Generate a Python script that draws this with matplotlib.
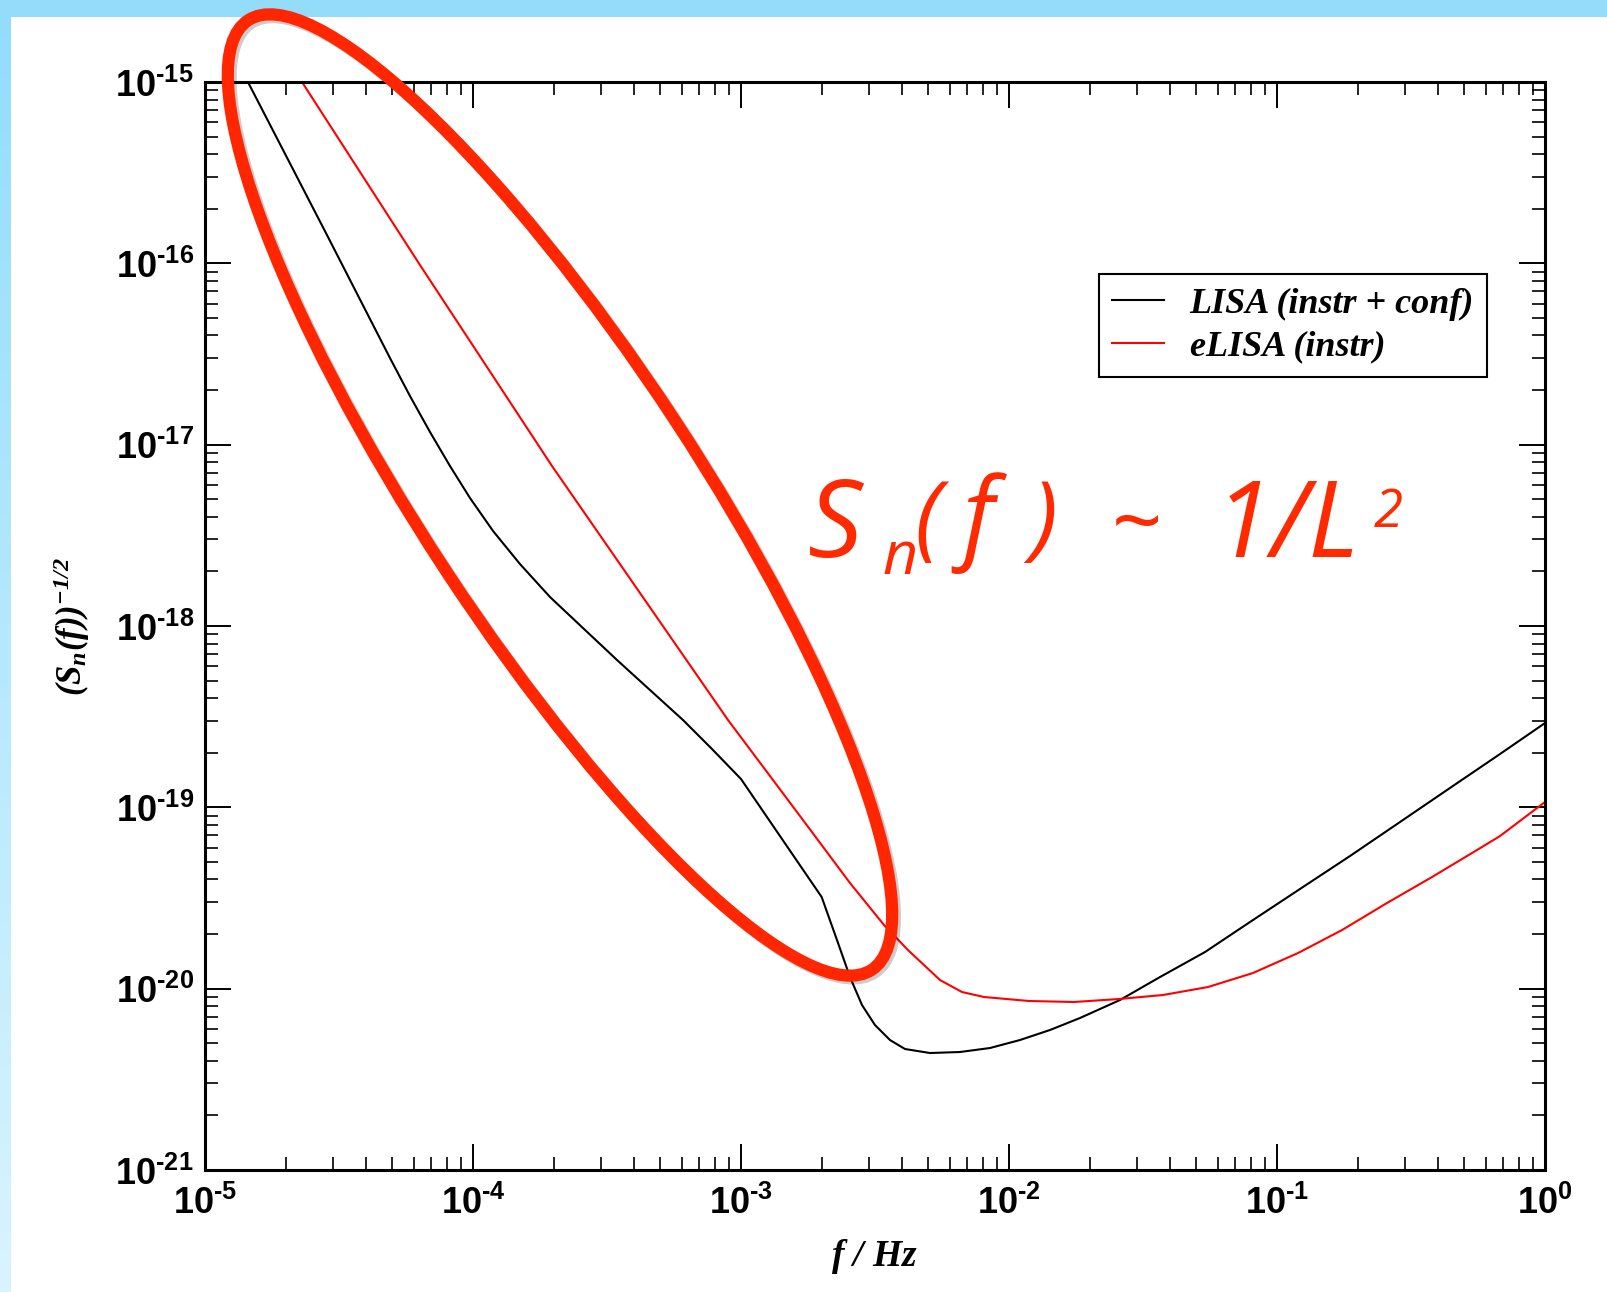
import numpy as np
import matplotlib
matplotlib.use('Agg')
import matplotlib.pyplot as plt
from matplotlib.patches import Ellipse, Rectangle
from matplotlib.ticker import FixedLocator, FuncFormatter, NullFormatter
import matplotlib.patheffects as pe

# fonts: sans bold for tick numbers, serif bold italic for the axis labels
plt.rcParams['mathtext.fontset'] = 'custom'
plt.rcParams['mathtext.rm'] = 'Liberation Serif:italic:bold'
plt.rcParams['mathtext.it'] = 'Liberation Serif:italic:bold'
plt.rcParams['mathtext.bf'] = 'Liberation Sans:bold'

# Step 1: data
lisa_f = [1.446e-5, 2.877e-5, 4.900e-5, 5.818e-5, 6.912e-5, 8.208e-5, 9.745e-5, 1.188e-4,
          1.497e-4, 1.938e-4, 2.572e-4, 3.446e-4, 4.575e-4, 6.075e-4, 7.795e-4, 1.0e-3,
          2.0e-3, 2.281e-3, 2.551e-3, 2.828e-3, 3.162e-3, 3.597e-3, 4.091e-3, 5.072e-3,
          6.567e-3, 8.494e-3, 1.099e-2, 1.422e-2, 1.840e-2, 2.595e-2, 3.659e-2, 5.386e-2,
          7.927e-2, 0.1218, 0.1872, 0.2877, 0.4418, 0.6794, 1.0]
lisa_S = [1.0e-15, 1.397e-16, 3.005e-17, 1.855e-17, 1.174e-17, 7.62e-18, 5.079e-18, 3.341e-18,
          2.197e-18, 1.445e-18, 9.748e-19, 6.494e-19, 4.436e-19, 3.031e-19, 2.097e-19, 1.433e-19,
          3.201e-20, 1.855e-20, 1.159e-20, 8.124e-21, 6.301e-21, 5.210e-21, 4.648e-21, 4.417e-21,
          4.474e-21, 4.707e-21, 5.210e-21, 5.916e-21, 6.889e-21, 8.659e-21, 1.159e-20, 1.592e-20,
          2.331e-20, 3.545e-20, 5.388e-20, 8.299e-20, 1.278e-19, 1.968e-19, 2.917e-19]

elisa_f = [2.301e-5, 6.341e-5, 1.972e-4, 8.943e-4, 1.703e-3, 2.551e-3, 3.417e-3, 4.198e-3,
           5.527e-3, 6.678e-3, 8.068e-3, 1.187e-2, 1.748e-2, 2.572e-2, 3.754e-2, 5.527e-2,
           8.133e-2, 0.1198, 0.1748, 0.2572, 0.3788, 0.5576, 0.6794, 1.0]
elisa_S = [1.0e-15, 9.790e-17, 7.62e-18, 3.031e-19, 8.513e-20, 3.825e-20, 2.244e-20, 1.633e-20,
           1.116e-20, 9.583e-21, 8.995e-21, 8.550e-21, 8.443e-21, 8.768e-21, 9.226e-21, 1.021e-20,
           1.220e-20, 1.572e-20, 2.105e-20, 2.967e-20, 4.127e-20, 5.816e-20, 6.946e-20, 1.070e-19]

labels = ['LISA (instr + conf)', 'eLISA (instr)']
x_decades = [-5, -4, -3, -2, -1, 0]
y_decades = [-21, -20, -19, -18, -17, -16, -15]

W, H = 1607, 1292
fig = plt.figure(figsize=(W / 100, H / 100), dpi=100)
fig.patch.set_facecolor('white')

# Step 2: main log-log plot
ax = fig.add_axes([205 / W, 1 - 1170 / H, 1340 / W, 1088 / H])
ax.plot(lisa_f, lisa_S, color='black', lw=1.5, label=labels[0])
ax.plot(elisa_f, elisa_S, color='red', lw=1.5, label=labels[1])
ax.set_xscale('log')
ax.set_yscale('log')
ax.set_xlim(1e-5, 1)
ax.set_ylim(1e-21, 1e-15)

# short hyphen in the exponent, as on the slide
fmt = FuncFormatter(lambda v, _: r'$\mathbf{10^{%s}}$' %
                    str(round(np.log10(v))).replace('-', '\u2010'))
for axis, dec in ((ax.xaxis, x_decades), (ax.yaxis, y_decades)):
    major = [10.0 ** d for d in dec]
    minor = [k * 10.0 ** d for d in dec[:-1] for k in range(2, 10)]
    axis.set_major_locator(FixedLocator(major))
    axis.set_minor_locator(FixedLocator(minor))
    axis.set_major_formatter(fmt)
    axis.set_minor_formatter(NullFormatter())
ax.tick_params(which='both', direction='in', top=True, right=True, labelsize=26)
ax.tick_params(which='major', length=19, width=1.4)
ax.tick_params(which='minor', length=9.5, width=1.2)
ax.tick_params(axis='x', pad=11)
ax.tick_params(axis='y', pad=8)
for s in ax.spines.values():
    s.set_linewidth(2.2)

ax.set_xlabel(r'$f$ / Hz', fontsize=27, family='Liberation Serif', style='italic', weight='bold')
ax.set_ylabel(r'$(S_n(f))^{-1/2}$', fontsize=25)
ax.xaxis.set_label_coords(0.5, -0.062)
ax.yaxis.set_label_coords(-0.084, 0.5)

leg = ax.legend(loc='upper right', bbox_to_anchor=(0.957, 0.8235), borderaxespad=0,
                fancybox=False, framealpha=1, edgecolor='black', handlelength=1.45,
                handletextpad=0.7, borderpad=0.37, labelspacing=0.26,
                prop={'family': 'Liberation Serif', 'style': 'italic', 'weight': 'bold', 'size': 26})
leg.get_frame().set_linewidth(1.5)

# Step 3: slide decoration and hand-drawn annotation (pixel coords)
ov = fig.add_axes([0, 0, 1, 1], zorder=5)
ov.axis('off')
ov.patch.set_alpha(0)

ov.add_patch(Rectangle((0, 0), W, 17, color='#93ddfb', lw=0))
grad = np.linspace(0, 1, 256).reshape(-1, 1)
cmap = matplotlib.colors.LinearSegmentedColormap.from_list('band', ['#93ddfb', '#d8f4ff'])
ov.imshow(grad, cmap=cmap, extent=(0, 11, H, 17), aspect='auto')
ov.set_xlim(0, W)
ov.set_ylim(H, 0)

ring = Ellipse((560, 495), width=1136, height=274, angle=56.7, fill=False,
               ec='#ff2600', lw=8.8)
ring.set_path_effects([pe.SimpleLineShadow(offset=(2, -2), shadow_color='k', alpha=0.2),
                       pe.Normal()])
ov.add_patch(ring)

hand = dict(color='#ff2a00', family=['Open Sans', 'DejaVu Sans'], style='italic',
            weight='normal', va='baseline', ha='left')
ov.text(808, 557, 'S', fontsize=78, **hand)
ov.text(882, 574, 'n', fontsize=44, **hand)
ov.text(914, 548, '(', fontsize=68, **hand)
ov.text(962, 550, 'f', fontsize=72, **hand)
ov.text(1030, 548, ')', fontsize=68, **hand)
ov.text(1110, 552, '~', fontsize=64, **hand)
ov.text(1214, 557, '1/L', fontsize=76, **hand)
ov.text(1374, 527, '2', fontsize=38, **hand)

fig.savefig('out.png', dpi=100)
